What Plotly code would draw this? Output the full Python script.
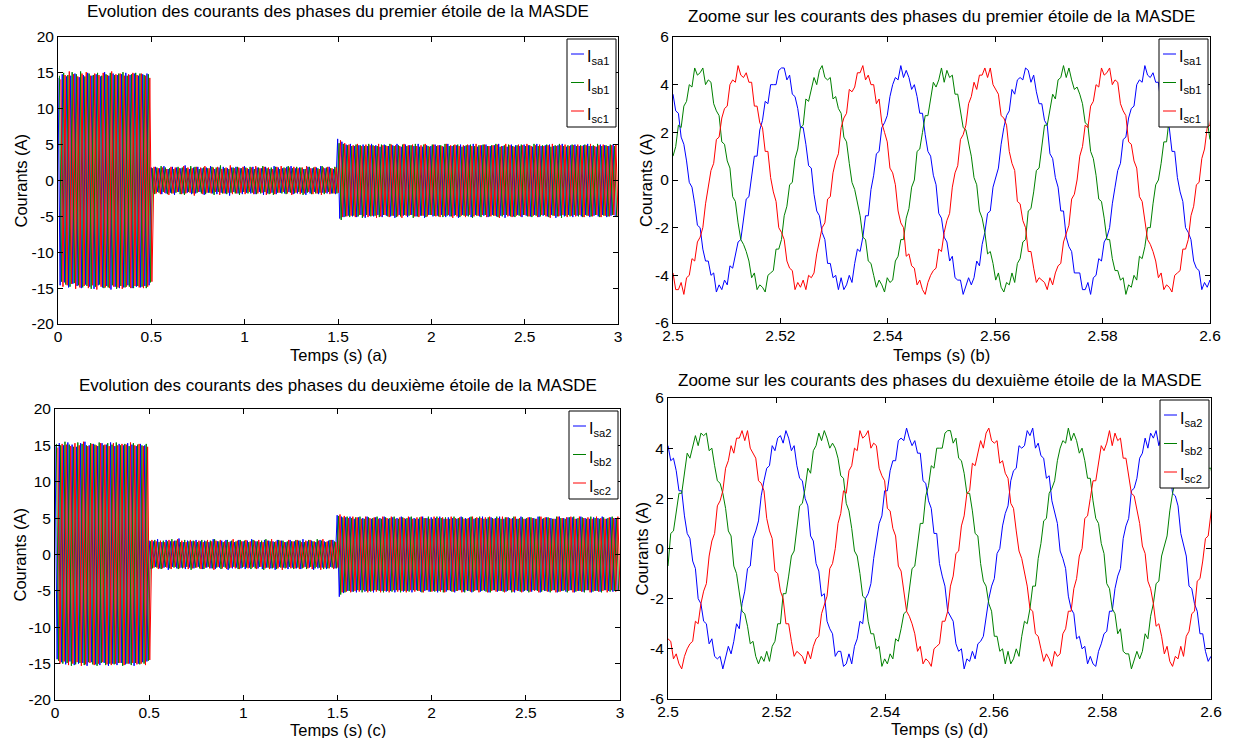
import plotly.graph_objects as go

# ---------------------------------------------------------------------------
# Time bases
# ---------------------------------------------------------------------------
half_period = 0.01135                 # spacing between successive current extrema (s)
phase_start = [0.0, 0.0076, 0.0151]   # time of first extremum for phases a, b, c (s)
zoom_start = 2.5                      # first sample of the zoomed records (s)
zoom_step = 0.000505                  # sample interval of the zoomed records (s)

# ---------------------------------------------------------------------------
# Star 1 - full run: successive extrema of each phase current (A)
# start-up (0-0.5 s), no load (0.5-1.5 s), load applied (1.5-3 s)
# ---------------------------------------------------------------------------
isa1_startup = [14.3,-14.6,14.8,-14.2,14.5,-14.9,14.6,-14.4,14.9,-14.7,14.4,-15.0,14.7,-14.5,15.0,-14.8,14.6,-15.1,14.8,-14.6,14.5,-14.9,
                15.1,-14.7,14.6,-15.2,14.9,-14.8,14.7,-15.0,14.8,-14.9,15.0,-14.6,14.7,-15.0,14.9,-14.8,14.6,-14.9,14.8,-14.7,14.9,-14.6]
isa1_noload = [1.8,-1.7,1.9,-1.6,1.7,-1.9,2.0,-1.8,1.6,-1.7,1.9,-2.0,1.8,-1.6,1.7,-1.8,2.1,-1.7,1.6,-1.9,1.8,-1.8,
               1.9,-1.6,1.7,-2.0,1.8,-1.7,2.0,-1.8,1.6,-1.9,1.8,-1.7,1.9,-1.8,1.7,-2.1,1.8,-1.6,1.9,-1.8,1.7,-1.9,
               2.0,-1.7,1.6,-1.8,1.9,-1.9,1.8,-1.6,1.7,-2.0,1.9,-1.8,1.6,-1.7,2.0,-1.9,1.8,-1.7,1.7,-1.8,1.9,-1.6,
               2.0,-1.9,1.7,-1.8,1.8,-1.7,1.6,-2.0,1.9,-1.8,1.7,-1.6,1.8,-1.9,2.0,-1.7,1.7,-1.8,1.9,-1.8,1.6,-1.9]
isa1_load = [5.8,-5.3,5.4,-5.1,5.0,-4.9,5.1,-5.0,4.8,-5.1,4.9,-4.8,5.0,-5.2,4.8,-4.9,5.1,-5.0,4.9,-4.8,4.7,-5.1,
             5.0,-4.9,4.8,-5.0,4.9,-5.2,5.1,-4.8,4.7,-4.9,5.0,-5.1,4.9,-4.8,4.8,-5.0,5.1,-4.9,4.7,-5.2,4.9,-4.8,
             4.8,-5.0,5.0,-4.9,4.9,-4.8,4.7,-5.1,5.1,-5.0,4.8,-4.9,4.9,-5.2,5.0,-4.8,4.8,-4.9,4.9,-5.1,5.1,-4.8,
             4.7,-5.0,4.9,-4.9,5.0,-5.1,4.8,-4.8,4.9,-5.0,5.1,-4.9,4.8,-5.2,4.7,-4.9,5.0,-5.0,4.9,-4.8,4.8,-5.1,
             5.0,-4.9,4.9,-5.0,4.7,-4.8,5.1,-5.1,4.8,-4.9,4.9,-5.0,5.0,-4.8,4.8,-5.2,4.9,-4.9,5.1,-5.0,4.7,-4.8,
             4.9,-5.1,5.0,-4.9,4.8,-5.0,4.9,-4.8,5.1,-5.1,4.8,-4.9,4.7,-5.0,5.0,-4.8,4.9,-5.1,4.8,-4.9,5.0,-5.0]

isb1_startup = [14.6,-14.1,15.0,-14.5,14.7,-14.8,15.1,-14.3,14.8,-14.6,15.2,-14.9,14.5,-14.7,14.9,-15.1,14.7,-14.8,15.0,-14.5,14.6,-15.0,
                14.8,-14.9,15.0,-14.6,14.7,-15.1,14.9,-14.7,15.1,-14.9,14.6,-14.8,14.8,-15.0,15.0,-14.7,14.9,-14.8,14.7,-15.0,14.8,-14.2]
isb1_noload = [1.7,-1.9,1.8,-1.7,2.0,-1.6,1.8,-1.9,1.7,-1.8,1.6,-1.7,1.9,-1.9,1.8,-2.0,1.7,-1.6,2.0,-1.8,1.9,-1.7,
               1.6,-1.8,1.8,-1.9,1.7,-1.7,1.9,-2.0,1.8,-1.6,2.1,-1.8,1.7,-1.9,1.6,-1.7,1.8,-1.8,1.9,-2.0,1.7,-1.6,
               1.8,-1.8,1.9,-1.7,1.6,-1.9,1.8,-1.8,2.0,-1.6,1.7,-1.9,1.8,-2.0,1.9,-1.7,1.6,-1.8,1.8,-1.9,2.0,-1.7,
               1.7,-1.8,1.9,-1.6,1.8,-2.0,1.6,-1.7,1.9,-1.9,1.8,-1.8,1.7,-1.7,2.0,-1.9,1.8,-1.6,1.7,-1.8,1.9,-1.8]
isb1_load = [5.2,-5.5,5.1,-5.0,4.9,-5.1,4.8,-4.9,5.0,-5.0,4.9,-5.2,4.8,-4.8,5.1,-5.0,4.9,-4.9,4.8,-5.1,5.0,-4.8,
             4.9,-5.0,5.1,-4.9,4.8,-5.1,4.9,-5.0,5.0,-4.8,4.8,-4.9,4.9,-5.2,5.1,-5.0,4.7,-4.9,5.0,-5.1,4.8,-4.8,
             5.0,-4.9,4.8,-5.0,4.9,-5.1,5.1,-4.9,4.8,-5.0,4.9,-4.8,5.0,-5.1,4.7,-4.9,4.9,-5.0,5.0,-5.2,4.8,-4.9,
             4.9,-5.1,5.0,-4.8,4.8,-5.0,4.9,-4.9,5.1,-5.1,4.7,-5.0,4.9,-4.8,5.0,-5.0,4.8,-5.1,4.9,-4.9,5.0,-4.8,
             4.8,-5.0,4.9,-5.1,5.1,-4.9,4.8,-5.0,4.9,-4.8,5.0,-5.1,4.7,-4.9,4.9,-5.0,5.1,-5.2,4.8,-4.9,4.9,-5.0,
             5.0,-4.8,4.8,-5.0,4.9,-5.1,5.0,-4.9,4.8,-5.0,4.9,-4.8,5.1,-5.1,4.8,-4.9,4.9,-5.0,5.0,-4.8,4.8,-5.1]

isc1_startup = [14.1,-14.8,14.7,-14.6,15.2,-14.4,14.8,-15.1,14.5,-14.9,14.9,-14.7,15.1,-15.0,14.6,-14.6,14.9,-15.2,14.7,-14.8,15.0,-14.9,
                14.7,-15.0,15.2,-14.8,14.8,-14.9,14.9,-15.1,14.6,-14.8,14.8,-15.0,15.0,-14.7,14.7,-14.9,14.9,-15.0,14.6,-14.8,14.3,-14.1]
isc1_noload = [1.9,-1.8,1.7,-1.9,1.8,-1.7,1.6,-2.0,1.9,-1.8,1.8,-1.6,1.7,-1.9,2.0,-1.8,1.8,-1.7,1.7,-2.1,1.9,-1.6,
               1.8,-1.9,2.0,-1.7,1.7,-1.8,1.8,-1.6,1.9,-2.0,1.6,-1.8,1.8,-1.7,2.1,-1.9,1.7,-1.8,1.8,-1.7,1.9,-1.9,
               1.7,-1.6,1.8,-1.9,2.0,-1.8,1.7,-1.7,1.9,-2.0,1.8,-1.8,1.6,-1.9,1.9,-1.7,2.0,-1.6,1.7,-1.8,1.8,-2.0,
               1.9,-1.7,1.7,-1.9,1.8,-1.8,2.0,-1.6,1.7,-1.9,1.9,-1.8,1.6,-2.0,1.8,-1.7,1.9,-1.9,1.7,-1.8,1.8,-1.7]
isc1_load = [5.6,-5.1,5.2,-5.0,5.0,-4.9,4.9,-5.1,5.1,-4.8,4.8,-5.0,5.0,-5.1,4.9,-4.9,4.8,-5.2,5.1,-5.0,4.9,-4.8,
             4.8,-5.1,5.0,-4.9,4.9,-5.0,4.8,-5.2,5.1,-4.9,4.9,-4.8,5.0,-5.0,4.8,-5.1,4.9,-4.9,5.1,-5.0,4.7,-4.8,
             5.0,-5.0,4.9,-5.1,4.8,-4.9,5.1,-4.8,4.9,-5.2,5.0,-5.0,4.8,-4.9,4.9,-5.1,5.0,-4.8,4.8,-5.0,5.1,-4.9,
             4.9,-4.8,5.0,-5.1,4.8,-5.0,4.9,-4.9,5.0,-5.2,4.8,-4.8,5.1,-5.0,4.9,-5.1,4.7,-4.9,5.0,-5.0,4.9,-4.8,
             5.1,-5.0,4.8,-4.9,4.9,-5.1,5.0,-4.8,4.8,-5.0,4.9,-5.2,5.1,-4.9,4.8,-5.0,4.9,-4.8,5.0,-5.1,4.8,-4.9,
             4.9,-5.0,5.0,-4.8,4.8,-5.1,4.9,-4.9,5.1,-5.0,4.8,-4.8,4.9,-5.1,5.0,-4.9,4.8,-5.0,4.9,-4.8,5.0,-5.0]

# ---------------------------------------------------------------------------
# Star 2 - full run: successive extrema of each phase current (A)
# ---------------------------------------------------------------------------
isa2_startup = [14.9,-14.4,15.3,-14.8,15.0,-15.1,15.4,-14.7,15.1,-15.2,14.8,-15.0,15.3,-14.9,15.5,-15.3,15.0,-14.8,15.2,-15.1,14.9,-15.2,
                15.3,-14.9,15.1,-15.3,15.4,-15.0,14.9,-15.2,15.2,-14.9,15.0,-15.1,15.3,-15.0,15.1,-15.3,14.9,-15.0,15.2,-14.8,15.0,-14.7]
isa2_noload = [1.9,-2.0,1.8,-1.7,2.1,-1.9,1.7,-1.8,2.0,-2.1,1.8,-1.7,1.9,-1.9,2.2,-1.8,1.7,-2.0,1.9,-1.8,1.8,-1.9,
               2.0,-1.7,1.8,-2.0,1.9,-1.8,1.7,-1.9,2.1,-2.0,1.8,-1.8,1.9,-1.7,2.0,-2.1,1.8,-1.9,1.7,-1.8,2.0,-1.9,
               1.8,-2.0,1.9,-1.8,2.1,-1.7,1.8,-1.9,1.7,-2.0,2.0,-1.8,1.9,-1.9,1.8,-2.1,2.0,-1.7,1.9,-1.8,1.7,-2.0,
               2.0,-1.8,1.8,-1.9,1.9,-2.0,2.1,-1.7,1.8,-1.8,1.9,-2.1,1.7,-1.9,2.0,-1.8,1.8,-2.0,1.9,-1.7,2.0,-1.9]
isa2_load = [5.4,-5.8,5.2,-5.3,5.1,-5.0,5.2,-5.1,4.9,-5.2,5.1,-4.9,5.0,-5.1,5.2,-5.0,4.9,-5.2,5.1,-4.9,5.0,-5.0,
             5.2,-5.1,4.9,-5.0,5.1,-5.2,5.0,-4.9,5.2,-5.1,4.9,-5.0,5.1,-5.2,5.0,-4.9,4.9,-5.1,5.2,-5.0,5.0,-5.1,
             5.1,-5.0,5.0,-5.2,5.2,-4.9,4.9,-5.1,5.1,-5.0,5.0,-5.2,4.9,-4.9,5.2,-5.1,5.0,-5.0,5.1,-5.2,4.9,-4.9,
             5.0,-5.1,5.2,-5.0,4.9,-5.2,5.1,-4.9,5.0,-5.1,5.2,-5.0,4.9,-5.1,5.1,-4.9,5.0,-5.2,4.9,-5.0,5.2,-5.1,
             4.9,-5.0,5.1,-5.1,5.0,-4.9,5.2,-5.2,4.9,-5.0,5.1,-5.1,5.0,-4.9,4.9,-5.2,5.2,-5.0,5.0,-5.1,5.1,-4.9,
             5.1,-5.2,4.9,-5.0,5.2,-5.1,5.0,-4.9,4.9,-5.2,5.1,-5.0,5.0,-5.1,5.2,-4.9,4.9,-5.0,5.1,-5.1,5.0,-5.0]

isb2_startup = [15.2,-14.6,15.0,-15.0,15.5,-14.9,15.1,-15.3,14.8,-15.1,15.4,-14.9,15.2,-15.2,15.0,-14.8,15.3,-15.1,15.1,-15.3,15.4,-14.9,
                15.0,-15.2,15.3,-15.0,15.1,-15.1,15.4,-14.9,15.0,-15.3,15.2,-15.0,14.9,-15.2,15.3,-14.9,15.1,-15.1,15.0,-15.0,15.2,-14.6]
isb2_noload = [1.8,-1.9,2.0,-1.8,1.7,-2.0,1.9,-1.7,1.8,-1.9,2.1,-1.8,1.9,-2.0,1.7,-1.9,2.0,-1.7,1.8,-2.1,1.9,-1.8,
               1.7,-1.9,2.0,-2.0,1.8,-1.7,1.9,-1.9,2.1,-1.8,1.8,-2.0,1.7,-1.8,2.0,-1.9,1.9,-1.7,1.8,-2.0,2.0,-1.8,
               1.9,-1.8,1.7,-2.0,2.0,-1.9,1.8,-1.7,1.9,-2.1,2.1,-1.8,1.8,-1.9,1.7,-2.0,2.0,-1.8,1.9,-1.9,1.8,-1.7,
               1.8,-2.0,2.0,-1.8,1.9,-1.9,1.7,-2.0,2.0,-1.7,1.8,-1.9,2.1,-1.8,1.9,-2.0,1.7,-1.9,2.0,-1.8,1.8,-1.9]
isb2_load = [5.3,-5.5,5.1,-5.2,5.2,-5.0,5.0,-5.1,5.1,-4.9,5.2,-5.2,4.9,-5.0,5.1,-5.1,5.0,-4.9,5.2,-5.0,4.9,-5.2,
             5.1,-5.0,5.0,-5.1,5.2,-4.9,4.9,-5.2,5.1,-5.0,5.0,-5.1,5.2,-4.9,4.9,-5.0,5.1,-5.2,5.0,-4.9,5.2,-5.1,
             4.9,-5.1,5.2,-5.0,5.0,-5.2,5.1,-4.9,4.9,-5.1,5.2,-5.0,5.0,-4.9,5.1,-5.2,4.9,-5.0,5.2,-5.1,5.0,-4.9,
             5.2,-5.0,4.9,-5.1,5.1,-5.2,5.0,-4.9,5.2,-5.0,4.9,-5.1,5.1,-5.0,5.0,-5.2,5.2,-4.9,4.9,-5.1,5.1,-5.0,
             5.0,-5.2,5.1,-4.9,4.9,-5.0,5.2,-5.1,5.0,-5.0,5.1,-5.2,4.9,-4.9,5.2,-5.1,5.0,-5.0,4.9,-5.2,5.1,-4.9,
             5.2,-5.1,5.0,-5.0,5.1,-5.2,4.9,-4.9,5.2,-5.1,5.0,-5.0,4.9,-5.2,5.1,-4.9,5.0,-5.1,5.2,-5.0,4.9,-5.0]

isc2_startup = [14.7,-15.0,15.2,-14.7,15.1,-15.2,14.9,-15.0,15.3,-14.8,15.0,-15.3,15.5,-15.1,14.9,-14.9,15.2,-15.2,15.0,-15.0,15.3,-14.8,
                15.1,-15.1,14.9,-15.2,15.3,-15.0,15.0,-14.9,15.2,-15.2,15.1,-15.0,15.4,-14.9,15.0,-15.1,15.2,-15.0,14.9,-15.2,14.8,-14.5]
isc2_noload = [2.0,-1.8,1.8,-2.0,1.9,-1.9,1.7,-1.8,2.0,-2.0,1.8,-1.7,2.1,-1.9,1.9,-1.8,1.7,-2.0,2.0,-1.9,1.8,-1.8,
               1.9,-2.0,1.7,-1.8,2.0,-1.9,1.8,-2.1,1.9,-1.7,2.0,-1.9,1.8,-2.0,1.7,-1.8,2.1,-1.9,1.9,-2.0,1.8,-1.7,
               2.0,-1.9,1.8,-1.8,1.9,-2.0,2.0,-1.7,1.7,-1.9,1.9,-2.0,2.1,-1.8,1.8,-1.9,1.9,-2.1,1.7,-1.8,2.0,-1.9,
               1.8,-1.9,2.0,-2.0,1.7,-1.8,1.9,-1.9,2.0,-2.0,1.8,-1.7,1.9,-2.1,2.1,-1.8,1.8,-1.9,2.0,-2.0,1.7,-1.8]
isc2_load = [5.5,-5.2,5.3,-5.1,5.0,-5.2,5.2,-5.0,5.1,-5.1,4.9,-4.9,5.2,-5.2,5.0,-5.0,5.1,-5.1,4.9,-5.2,5.2,-5.0,
             5.0,-5.2,5.2,-4.9,4.9,-5.1,5.1,-5.0,5.0,-5.2,5.2,-4.9,4.9,-5.1,5.1,-5.0,5.2,-5.2,5.0,-4.9,4.9,-5.1,
             5.2,-5.0,5.0,-5.1,5.1,-5.2,4.9,-4.9,5.2,-5.1,5.0,-5.0,5.1,-5.2,4.9,-4.9,5.0,-5.1,5.2,-5.0,5.1,-5.2,
             5.0,-4.9,5.1,-5.2,5.2,-5.0,4.9,-5.1,5.0,-5.0,5.2,-5.2,5.1,-4.9,4.9,-5.1,5.2,-5.0,5.0,-5.2,4.9,-4.9,
             5.1,-5.1,5.0,-5.0,4.9,-5.2,5.2,-4.9,5.1,-5.1,5.0,-5.0,4.9,-5.2,5.2,-5.1,5.0,-4.9,5.1,-5.0,5.2,-5.2,
             4.9,-5.0,5.2,-5.1,5.0,-4.9,5.1,-5.2,4.9,-5.0,5.2,-5.1,5.0,-5.0,4.9,-5.2,5.1,-4.9,5.0,-5.1,5.2,-5.0]

# ---------------------------------------------------------------------------
# Zoomed records, 2.5 s - 2.6 s (A)
# ---------------------------------------------------------------------------
isa1_zoom = [3.6, 2.9, 2.8, 1.8, 1.5, 0.8, -0.1, -0.3, -1.0, -1.9,
             -2.0, -2.9, -3.4, -3.4, -4.0, -3.9, -4.7, -4.4, -4.6, -4.2,
             -4.4, -3.6, -3.7, -3.2, -2.6, -2.5, -1.6, -0.8, -0.7, 0.1,
             1.0, 1.0, 2.1, 2.5, 3.3, 3.2, 4.0, 4.0, 4.0, 4.6,
             4.7, 4.7, 4.2, 4.4, 3.6, 3.5, 3.0, 2.2, 2.2, 1.5,
             0.6, 0.5, -0.6, -1.3, -1.5, -2.2, -2.5, -3.5, -3.5, -4.1,
             -4.0, -4.6, -4.1, -4.6, -4.4, -4.0, -4.3, -3.5, -2.9, -3.0,
             -2.4, -1.5, -1.5, -0.4, 0.2, 1.1, 1.2, 2.2, 2.4, 2.7,
             3.5, 4.0, 4.3, 4.2, 4.8, 4.3, 4.6, 4.3, 3.8, 4.0,
             3.5, 2.8, 2.8, 1.9, 1.2, 1.0, 0.2, -0.2, -1.4, -1.6,
             -2.4, -2.6, -3.4, -3.2, -4.1, -4.2, -4.2, -4.8, -4.4, -4.1,
             -4.4, -4.1, -3.4, -3.6, -2.7, -2.2, -1.4, -1.3, -0.3, 0.1,
             0.5, 1.5, 2.2, 2.7, 2.9, 3.8, 3.6, 4.2, 4.3, 4.2,
             4.7, 4.6, 4.1, 4.4, 3.7, 3.2, 3.2, 2.5, 2.3, 1.1,
             0.9, 0.1, -0.3, -1.3, -1.3, -2.4, -2.8, -3.0, -3.9, -3.9,
             -3.9, -4.6, -4.6, -4.3, -4.8, -4.1, -4.0, -3.3, -3.4, -2.6,
             -2.4, -2.0, -1.0, -0.3, 0.4, 0.7, 1.7, 1.8, 2.6, 3.0,
             3.1, 4.0, 4.2, 4.1, 4.8, 4.4, 4.3, 4.5, 4.1, 4.1,
             3.1, 3.1, 2.4, 2.2, 1.2, 1.2, 0.1, -0.5, -0.9, -2.0,
             -2.2, -2.5, -3.4, -3.7, -3.8, -4.6, -4.3, -4.5, -4.2, -4.6,
             -4.0]
isb1_zoom = [1.0, 1.4, 2.3, 2.2, 3.1, 3.3, 4.0, 3.9, 4.7, 4.4,
             4.5, 4.7, 4.0, 4.2, 4.1, 3.2, 2.9, 2.7, 1.6, 1.5,
             0.8, 0.5, -0.7, -0.9, -1.8, -2.5, -2.7, -3.0, -3.4, -4.1,
             -3.9, -4.6, -4.4, -4.5, -4.7, -4.0, -3.9, -3.8, -2.9, -2.9,
             -2.5, -1.5, -1.1, -0.2, -0.1, 0.9, 1.3, 2.2, 2.3, 3.4,
             3.3, 3.8, 4.3, 4.0, 4.6, 4.8, 4.3, 4.2, 4.3, 3.4,
             3.5, 3.0, 2.8, 1.8, 1.6, 0.7, -0.1, -0.4, -0.9, -1.5,
             -2.4, -2.5, -3.4, -3.5, -4.0, -4.5, -4.2, -4.4, -4.7, -4.1,
             -4.3, -4.2, -3.4, -3.2, -2.5, -2.5, -1.6, -1.2, -0.3, 0.0,
             1.2, 1.3, 2.0, 2.7, 2.7, 3.5, 4.1, 3.9, 4.2, 4.7,
             4.1, 4.6, 4.3, 4.4, 3.6, 3.6, 2.9, 2.2, 2.1, 1.6,
             1.0, 0.1, -0.2, -1.3, -1.6, -2.2, -3.1, -3.0, -3.5, -4.2,
             -3.9, -4.5, -4.7, -4.3, -4.4, -3.9, -4.3, -3.5, -3.3, -2.6,
             -2.5, -1.3, -1.2, -0.5, 0.4, 0.5, 1.5, 2.3, 2.3, 2.9,
             3.6, 3.4, 4.2, 4.3, 4.8, 4.3, 4.7, 4.2, 3.8, 3.9,
             3.6, 3.2, 2.4, 2.3, 1.2, 0.9, 0.2, -0.8, -0.9, -1.6,
             -2.5, -2.5, -3.3, -3.8, -3.8, -4.2, -4.1, -4.8, -4.4, -4.5,
             -4.0, -4.2, -3.2, -3.3, -2.8, -2.0, -2.0, -1.0, -0.2, 0.0,
             0.7, 1.6, 1.6, 2.6, 3.0, 3.8, 3.6, 4.3, 4.2, 4.2,
             4.6, 4.7, 4.5, 4.0, 4.1, 3.2, 3.1, 2.5, 1.7, 1.6,
             0.9]
isc1_zoom = [-3.9, -4.6, -4.6, -4.3, -4.8, -4.1, -4.0, -3.3, -3.4, -2.6,
             -2.4, -2.0, -1.0, -0.3, 0.4, 0.7, 1.7, 1.8, 2.6, 3.0,
             3.1, 4.0, 4.2, 4.1, 4.8, 4.4, 4.3, 4.5, 4.1, 4.1,
             3.1, 3.1, 2.4, 2.2, 1.2, 1.2, 0.1, -0.5, -0.9, -2.0,
             -2.2, -2.5, -3.4, -3.7, -3.8, -4.6, -4.3, -4.5, -4.2, -4.6,
             -4.0, -4.1, -3.9, -3.1, -2.6, -2.0, -1.8, -0.8, -0.7, 0.3,
             0.8, 1.1, 2.2, 2.6, 2.8, 3.8, 3.7, 3.9, 4.5, 4.5,
             4.8, 4.2, 4.4, 4.0, 4.0, 3.2, 3.4, 2.4, 2.0, 1.6,
             0.5, 0.3, -0.2, -1.3, -1.8, -2.0, -3.2, -3.1, -3.6, -3.7,
             -4.4, -4.2, -4.6, -4.8, -4.3, -4.0, -3.8, -3.7, -2.9, -3.0,
             -2.2, -1.7, -1.4, -0.3, 0.3, 0.6, 1.7, 1.9, 2.3, 3.2,
             3.5, 4.1, 3.8, 4.4, 4.4, 4.7, 4.3, 4.7, 4.0, 3.8,
             3.6, 2.7, 2.6, 2.3, 1.2, 0.7, 0.4, -0.9, -1.0, -1.7,
             -2.0, -3.0, -3.0, -3.7, -4.3, -4.1, -4.2, -4.3, -4.6, -4.1,
             -4.4, -3.9, -3.6, -3.5, -2.6, -2.2, -1.9, -0.8, -0.6, 0.0,
             1.0, 1.4, 2.3, 2.2, 3.1, 3.3, 4.0, 3.9, 4.7, 4.4,
             4.5, 4.7, 4.0, 4.2, 4.1, 3.2, 2.9, 2.7, 1.6, 1.5,
             0.8, 0.5, -0.7, -0.9, -1.8, -2.5, -2.7, -3.0, -3.4, -4.1,
             -3.9, -4.6, -4.4, -4.5, -4.7, -4.0, -3.9, -3.8, -2.9, -2.9,
             -2.5, -1.5, -1.1, -0.2, -0.1, 0.9, 1.3, 2.2, 2.3, 3.4,
             3.3]

isa2_zoom = [4.1, 3.5, 3.6, 3.1, 2.3, 2.3, 1.3, 0.6, 0.4, -0.5,
             -0.8, -2.0, -2.2, -2.9, -3.0, -3.8, -3.6, -4.3, -4.4, -4.3,
             -4.8, -4.3, -3.9, -4.2, -3.7, -3.0, -3.2, -2.2, -1.7, -0.8,
             -0.7, 0.4, 0.7, 1.1, 2.1, 2.7, 3.2, 3.3, 4.1, 3.9,
             4.4, 4.5, 4.2, 4.7, 4.4, 3.9, 4.1, 3.3, 2.8, 2.7,
             2.0, 1.7, 0.5, 0.3, -0.6, -0.9, -1.9, -1.8, -2.9, -3.2,
             -3.4, -4.3, -4.1, -4.1, -4.7, -4.6, -4.2, -4.6, -3.9, -3.6,
             -2.9, -3.0, -2.0, -1.8, -1.4, -0.4, 0.4, 1.0, 1.3, 2.3,
             2.3, 3.1, 3.5, 3.5, 4.3, 4.4, 4.3, 4.8, 4.4, 4.1,
             4.3, 3.8, 3.8, 2.7, 2.6, 1.9, 1.6, 0.6, 0.6, -0.6,
             -1.1, -1.5, -2.5, -2.7, -2.9, -3.8, -4.1, -4.0, -4.8, -4.4,
             -4.5, -4.1, -4.4, -3.8, -3.7, -3.5, -2.7, -2.0, -1.5, -1.2,
             -0.2, 0.0, 0.9, 1.4, 1.7, 2.7, 3.1, 3.2, 4.1, 4.0,
             4.1, 4.7, 4.5, 4.8, 4.0, 4.2, 3.7, 3.6, 2.8, 2.9,
             1.9, 1.4, 1.0, -0.1, -0.4, -0.8, -1.9, -2.4, -2.6, -3.6,
             -3.5, -4.0, -3.9, -4.6, -4.3, -4.6, -4.7, -4.1, -3.8, -3.4,
             -3.3, -2.5, -2.5, -1.6, -1.1, -0.8, 0.4, 0.9, 1.2, 2.3,
             2.4, 2.8, 3.6, 3.8, 4.4, 4.0, 4.6, 4.4, 4.7, 4.1,
             4.5, 3.7, 3.5, 3.2, 2.2, 2.1, 1.7, 0.6, 0.1, -0.3,
             -1.5, -1.6, -2.2, -2.5, -3.4, -3.4, -4.1, -4.5, -4.3, -4.3,
             -4.3]
isb2_zoom = [-0.7, 0.6, 0.7, 1.4, 2.2, 2.2, 3.1, 3.8, 3.6, 4.0,
             4.5, 4.1, 4.6, 4.5, 4.6, 3.9, 4.0, 3.3, 2.7, 2.6,
             2.2, 1.6, 0.7, 0.5, -0.7, -1.0, -1.7, -2.5, -2.6, -3.1,
             -3.8, -3.7, -4.3, -4.6, -4.3, -4.5, -4.1, -4.5, -3.9, -3.7,
             -3.0, -3.0, -1.8, -1.8, -1.1, -0.3, -0.1, 0.9, 1.7, 1.8,
             2.4, 3.2, 3.0, 3.9, 4.1, 4.6, 4.3, 4.7, 4.4, 4.0,
             4.2, 4.0, 3.6, 2.9, 2.8, 1.8, 1.5, 0.8, -0.1, -0.3,
             -1.0, -1.9, -2.0, -2.9, -3.4, -3.4, -4.0, -3.9, -4.7, -4.4,
             -4.6, -4.2, -4.4, -3.6, -3.7, -3.2, -2.6, -2.5, -1.6, -0.8,
             -0.7, 0.1, 1.0, 1.0, 2.1, 2.5, 3.3, 3.2, 4.0, 4.0,
             4.0, 4.6, 4.7, 4.7, 4.2, 4.4, 3.6, 3.5, 3.0, 2.2,
             2.2, 1.5, 0.6, 0.5, -0.6, -1.3, -1.5, -2.2, -2.5, -3.5,
             -3.5, -4.1, -4.0, -4.6, -4.1, -4.6, -4.4, -4.0, -4.3, -3.5,
             -2.9, -3.0, -2.4, -1.5, -1.5, -0.4, 0.2, 1.1, 1.2, 2.2,
             2.4, 2.7, 3.5, 4.0, 4.3, 4.2, 4.8, 4.3, 4.6, 4.3,
             3.8, 4.0, 3.5, 2.8, 2.8, 1.9, 1.2, 1.0, 0.2, -0.2,
             -1.4, -1.6, -2.4, -2.6, -3.4, -3.2, -4.1, -4.2, -4.2, -4.8,
             -4.4, -4.1, -4.4, -4.1, -3.4, -3.6, -2.7, -2.2, -1.4, -1.3,
             -0.3, 0.1, 0.5, 1.5, 2.2, 2.7, 2.9, 3.8, 3.6, 4.2,
             4.3, 4.2, 4.7, 4.6, 4.1, 4.4, 3.7, 3.2, 3.2, 2.5,
             2.3]
isc2_zoom = [-3.6, -3.7, -4.4, -4.2, -4.6, -4.8, -4.3, -4.0, -3.8, -3.7,
             -2.9, -3.0, -2.2, -1.7, -1.4, -0.3, 0.3, 0.6, 1.7, 1.9,
             2.3, 3.2, 3.5, 4.1, 3.8, 4.4, 4.4, 4.7, 4.3, 4.7,
             4.0, 3.8, 3.6, 2.7, 2.6, 2.3, 1.2, 0.7, 0.4, -0.9,
             -1.0, -1.7, -2.0, -3.0, -3.0, -3.7, -4.3, -4.1, -4.2, -4.3,
             -4.6, -4.1, -4.4, -3.9, -3.6, -3.5, -2.6, -2.2, -1.9, -0.8,
             -0.6, 0.0, 1.0, 1.4, 2.3, 2.2, 3.1, 3.3, 4.0, 3.9,
             4.7, 4.4, 4.5, 4.7, 4.0, 4.2, 4.1, 3.2, 2.9, 2.7,
             1.6, 1.5, 0.8, 0.5, -0.7, -0.9, -1.8, -2.5, -2.7, -3.0,
             -3.4, -4.1, -3.9, -4.6, -4.4, -4.5, -4.7, -4.0, -3.9, -3.8,
             -2.9, -2.9, -2.5, -1.5, -1.1, -0.2, -0.1, 0.9, 1.3, 2.2,
             2.3, 3.4, 3.3, 3.8, 4.3, 4.0, 4.6, 4.8, 4.3, 4.2,
             4.3, 3.4, 3.5, 3.0, 2.8, 1.8, 1.6, 0.7, -0.1, -0.4,
             -0.9, -1.5, -2.4, -2.5, -3.4, -3.5, -4.0, -4.5, -4.2, -4.4,
             -4.7, -4.1, -4.3, -4.2, -3.4, -3.2, -2.5, -2.5, -1.6, -1.2,
             -0.3, 0.0, 1.2, 1.3, 2.0, 2.7, 2.7, 3.5, 4.1, 3.9,
             4.2, 4.7, 4.1, 4.6, 4.3, 4.4, 3.6, 3.6, 2.9, 2.2,
             2.1, 1.6, 1.0, 0.1, -0.2, -1.3, -1.6, -2.2, -3.1, -3.0,
             -3.5, -4.2, -3.9, -4.5, -4.7, -4.3, -4.4, -3.9, -4.3, -3.5,
             -3.3, -2.6, -2.5, -1.3, -1.2, -0.5, 0.4, 0.5, 1.5, 2.3,
             2.3]

# ---------------------------------------------------------------------------
# Axis ticks and labels
# ---------------------------------------------------------------------------
full_t_ticks = [0, 0.5, 1, 1.5, 2, 2.5, 3]
full_t_labels = ["0", "0.5", "1", "1.5", "2", "2.5", "3"]
full_i_ticks = [-20, -15, -10, -5, 0, 5, 10, 15, 20]
full_i_labels = ["-20", "-15", "-10", "-5", "0", "5", "10", "15", "20"]
zoom_t_ticks = [2.5, 2.52, 2.54, 2.56, 2.58, 2.6]
zoom_t_labels = ["2.5", "2.52", "2.54", "2.56", "2.58", "2.6"]
zoom_i_ticks = [-6, -4, -2, 0, 2, 4, 6]
zoom_i_labels = ["-6", "-4", "-2", "0", "2", "4", "6"]

phase_colors = ["#0000ff", "#008000", "#ff0000"]

star1_full = [isa1_startup + isa1_noload + isa1_load,
              isb1_startup + isb1_noload + isb1_load,
              isc1_startup + isc1_noload + isc1_load]
star2_full = [isa2_startup + isa2_noload + isa2_load,
              isb2_startup + isb2_noload + isb2_load,
              isc2_startup + isc2_noload + isc2_load]
star1_zoom = [isa1_zoom, isb1_zoom, isc1_zoom]
star2_zoom = [isa2_zoom, isb2_zoom, isc2_zoom]
names1 = ["I<sub>sa1</sub>", "I<sub>sb1</sub>", "I<sub>sc1</sub>"]
names2 = ["I<sub>sa2</sub>", "I<sub>sb2</sub>", "I<sub>sc2</sub>"]

# ---------------------------------------------------------------------------
# Page geometry (pixels on a 1233 x 738 page)
# ---------------------------------------------------------------------------
W, H = 1233, 738
FONT = "Liberation Sans, Arial, Helvetica, sans-serif"
TICK_SIZE = 15.5
LABEL_SIZE = 16.5
TITLE_SIZE = 17


def fx(p):
    return p / W


def fy(p):
    return 1 - p / H


panels = [
    dict(s="", l=58, r=618, t=37, b=324,
         title="Evolution des courants des phases du premier étoile de la MASDE", ty=12,
         xl="Temps (s) (a)", xly=355, ylx=21, full=True),
    dict(s="2", l=673, r=1210, t=37, b=323,
         title="Zoome sur les courants des phases du premier étoile de la MASDE", ty=17,
         xl="Temps (s) (b)", xly=355, ylx=646, full=False),
    dict(s="3", l=55, r=620, t=409, b=700,
         title="Evolution des courants des phases du deuxième étoile de la MASDE", ty=385,
         xl="Temps (s) (c)", xly=730, ylx=19, full=True),
    dict(s="4", l=668, r=1211, t=398, b=699,
         title="Zoome sur les courants des phases du dexuième étoile de la MASDE", ty=380,
         xl="Temps (s) (d)", xly=729, ylx=641, full=False),
]

series = [(star1_full, names1), (star1_zoom, names1), (star2_full, names2), (star2_zoom, names2)]

fig = go.Figure()
layout = dict(
    width=W, height=H,
    margin=dict(l=0, r=0, t=0, b=0, autoexpand=False),
    paper_bgcolor="white", plot_bgcolor="white",
    font=dict(family=FONT, size=16, color="black"),
    showlegend=False,
    annotations=[],
    shapes=[],
)

for k, (p, (data, names)) in enumerate(zip(panels, series)):
    xa = "x" + p["s"]
    ya = "y" + p["s"]
    for ph in range(3):
        if p["full"]:
            pos = dict(x0=phase_start[ph], dx=half_period)
        else:
            pos = dict(x0=zoom_start, dx=zoom_step)
        fig.add_trace(go.Scatter(
            y=data[ph], mode="lines", name=names[ph],
            line=dict(color=phase_colors[ph], width=1),
            xaxis=xa, yaxis=ya, hoverinfo="skip", **pos))

    axis_common = dict(
        showline=True, linecolor="black", linewidth=1, mirror="ticks",
        ticks="inside", ticklen=5, tickwidth=1, tickcolor="black",
        showgrid=False, zeroline=False, automargin=False,
        tickfont=dict(family=FONT, size=TICK_SIZE, color="black"),
    )
    layout["xaxis" + p["s"]] = dict(
        axis_common, domain=[fx(p["l"]), fx(p["r"])], anchor=ya,
        range=[0, 3] if p["full"] else [2.5, 2.6],
        tickmode="array", ticklabelstandoff=-2,
        tickvals=full_t_ticks if p["full"] else zoom_t_ticks,
        ticktext=full_t_labels if p["full"] else zoom_t_labels,
    )
    layout["yaxis" + p["s"]] = dict(
        axis_common, domain=[fy(p["b"]), fy(p["t"])], anchor=xa,
        range=[-20, 20] if p["full"] else [-6, 6],
        tickmode="array",
        tickvals=full_i_ticks if p["full"] else zoom_i_ticks,
        ticktext=full_i_labels if p["full"] else zoom_i_labels,
    )

    # boxed legend in the upper-right corner of each axes
    bl, br = p["r"] - 51, p["r"] - 2
    bt, bb = p["t"] + 2, p["t"] + 90
    layout["shapes"].append(dict(
        type="rect", xref="paper", yref="paper",
        x0=fx(bl), x1=fx(br), y0=fy(bb), y1=fy(bt),
        line=dict(color="black", width=1), fillcolor="white", layer="above"))
    for ph in range(3):
        ly = bt + 15 + 28.5 * ph
        layout["shapes"].append(dict(
            type="line", xref="paper", yref="paper",
            x0=fx(bl + 4), x1=fx(bl + 17), y0=fy(ly), y1=fy(ly),
            line=dict(color=phase_colors[ph], width=1), layer="above"))
        layout["annotations"].append(dict(
            text=names[ph], x=fx(bl + 18), y=fy(ly + 4), xref="paper", yref="paper",
            xanchor="left", yanchor="middle", showarrow=False,
            font=dict(family=FONT, size=16, color="black")))

    cx = (p["l"] + p["r"]) / 2
    cy = (p["t"] + p["b"]) / 2
    layout["annotations"] += [
        dict(text=p["title"], x=fx(cx), y=fy(p["ty"]), xref="paper", yref="paper",
             xanchor="center", yanchor="middle", showarrow=False,
             font=dict(family=FONT, size=TITLE_SIZE, color="black")),
        dict(text=p["xl"], x=fx(cx), y=fy(p["xly"]), xref="paper", yref="paper",
             xanchor="center", yanchor="middle", showarrow=False,
             font=dict(family=FONT, size=LABEL_SIZE, color="black")),
        dict(text="Courants (A)", x=fx(p["ylx"]), y=fy(cy), xref="paper", yref="paper",
             xanchor="center", yanchor="middle", showarrow=False, textangle=-90,
             font=dict(family=FONT, size=LABEL_SIZE, color="black")),
    ]

fig.update_layout(**layout)
fig.write_html("out.html")
